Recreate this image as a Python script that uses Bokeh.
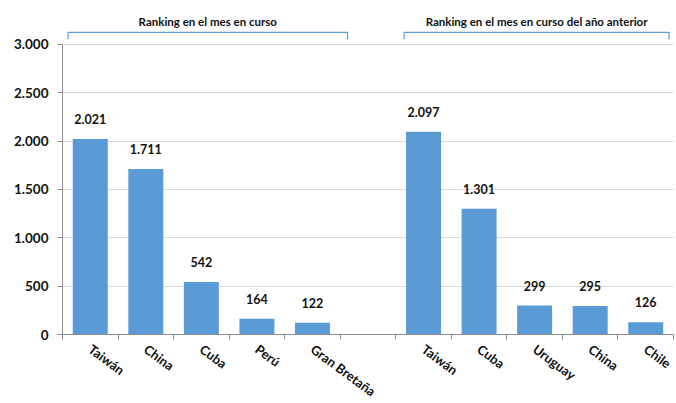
from bokeh.plotting import figure
from bokeh.models import FixedTicker, Range1d, ColumnDataSource
from bokeh.core.properties import value
from bokeh.embed import file_html
from bokeh.resources import INLINE

# ---- data ----
group1_names = ["Taiwán", "China", "Cuba", "Perú", "Gran Bretaña"]
group1_values = [2021, 1711, 542, 164, 122]
group2_names = ["Taiwán", "Cuba", "Uruguay", "China", "Chile"]
group2_values = [2097, 1301, 299, 295, 126]
group_titles = ["Ranking en el mes en curso", "Ranking en el mes en curso del año anterior"]
y_ticks = [0, 500, 1000, 1500, 2000, 2500, 3000]

def fmt(v):
    return f"{v:,}".replace(",", ".")

# slots: group1 (5), empty slot, group2 (5)
names = group1_names + [""] + group2_names
vals = group1_values + [None] + group2_values
n = len(names)
xs = [i + 0.5 for i in range(n)]

bar_x = [x for x, v in zip(xs, vals) if v is not None]
bar_top = [v for v in vals if v is not None]
src = ColumnDataSource(dict(x=bar_x, top=bar_top, lab=[fmt(v) for v in bar_top]))

FONT = "Lato"
BLUE = "#5B9BD5"
GRAY = "#8C8C8C"

p = figure(output_backend="svg", toolbar_location=None,
           frame_width=611, frame_height=324,
           min_border_left=62, min_border_right=2, min_border_top=10, min_border_bottom=60,
           x_range=Range1d(0, n), y_range=Range1d(0, 3350))
p.outline_line_color = None
p.background_fill_color = "white"
p.border_fill_color = "white"

p.vbar(x="x", top="top", bottom=0, width=0.63, source=src,
       fill_color=BLUE, line_color=None)

p.text(x="x", y="top", text="lab", source=src, text_align="center",
       text_baseline="middle", y_offset=-20,
       text_font=value(FONT), text_font_style="bold", text_font_size="12.5px",
       text_color="#111111")

# group brackets
br_start = [0.1, 6.15]
br_end = [5.13, 10.92]
br_top = 3124
br_bot = 3052
p.multi_line(xs=[[a, a, b, b] for a, b in zip(br_start, br_end)],
             ys=[[br_bot, br_top, br_top, br_bot] for _ in br_start],
             line_color=BLUE, line_width=1.2)
p.text(x=[(a + b) / 2 for a, b in zip(br_start, br_end)], y=[3238, 3238],
       text=group_titles, text_align="center", text_baseline="middle",
       text_font=value(FONT), text_font_style="bold", text_font_size="11.5px",
       text_color="#111111")

# y axis
p.yaxis.ticker = FixedTicker(ticks=y_ticks)
p.yaxis.major_label_overrides = {t: fmt(t) for t in y_ticks}
p.yaxis.bounds = (0, 3000)
p.yaxis.axis_line_color = GRAY
p.yaxis.major_tick_line_color = GRAY
p.yaxis.major_tick_out = 5
p.yaxis.major_tick_in = 0
p.yaxis.minor_tick_line_color = None
p.yaxis.major_label_standoff = 9
p.yaxis.major_label_text_font = FONT
p.yaxis.major_label_text_font_style = "bold"
p.yaxis.major_label_text_font_size = "13.5px"
p.yaxis.major_label_text_color = "#111111"

p.ygrid.ticker = FixedTicker(ticks=y_ticks)
p.ygrid.bounds = (0, 3000)
p.ygrid.grid_line_color = "#D9D9D9"
p.xgrid.grid_line_color = None

# x axis
p.xaxis.ticker = FixedTicker(ticks=xs, minor_ticks=list(range(n + 1)))
p.xaxis.major_label_overrides = {x: nm for x, nm in zip(xs, names)}
p.xaxis.axis_line_color = GRAY
p.xaxis.major_tick_line_color = None
p.xaxis.major_tick_out = 0
p.xaxis.major_tick_in = 0
p.xaxis.minor_tick_line_color = GRAY
p.xaxis.minor_tick_out = 5
p.xaxis.minor_tick_in = 0
p.xaxis.major_label_orientation = -0.635
p.xaxis.major_label_standoff = 8
p.xaxis.major_label_text_font = FONT
p.xaxis.major_label_text_font_style = "bold"
p.xaxis.major_label_text_font_size = "13px"
p.xaxis.major_label_text_color = "#111111"

open("out.html", "w").write(file_html(p, INLINE))
